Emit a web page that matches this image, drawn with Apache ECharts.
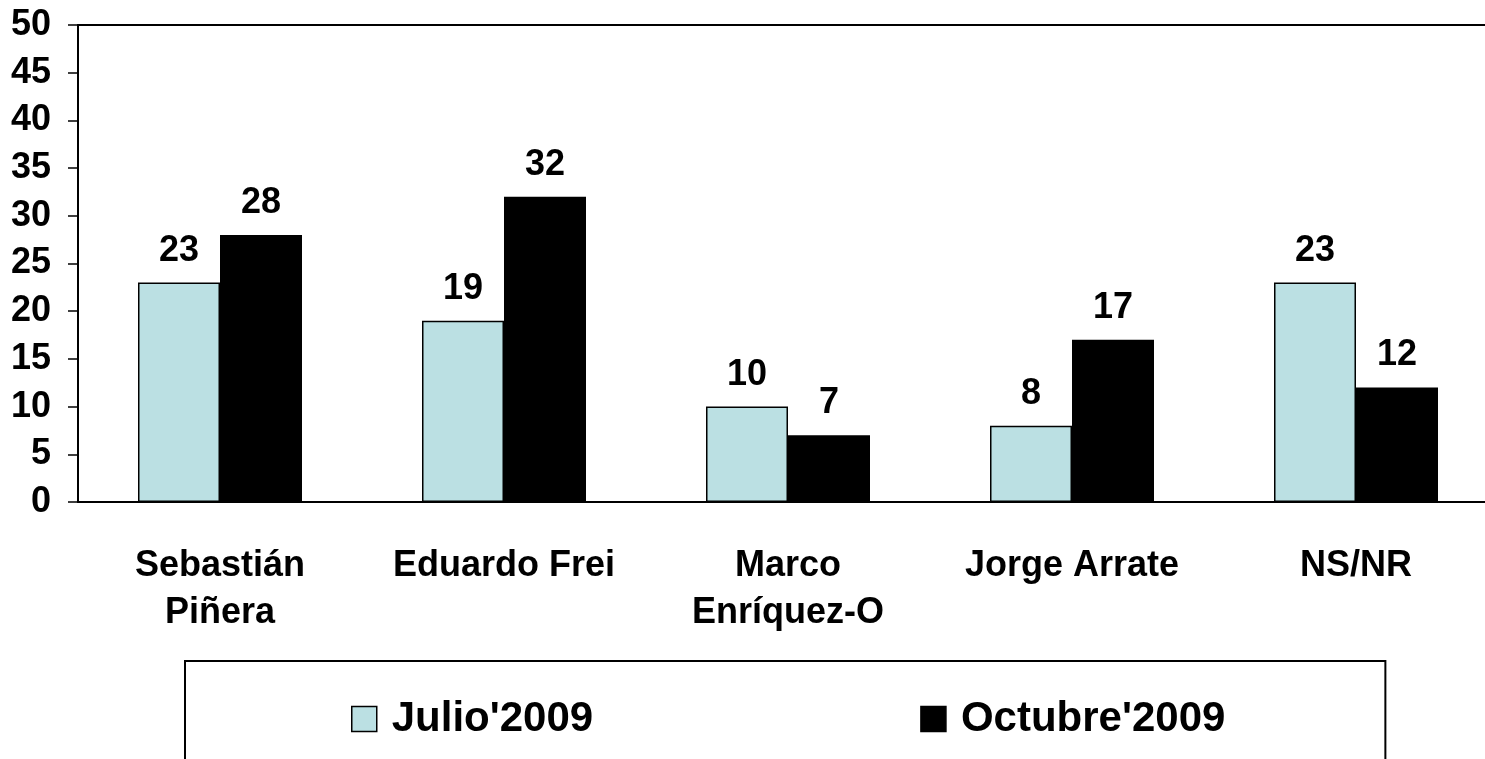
<!DOCTYPE html>
<html>
<head>
<meta charset="utf-8">
<script src="https://cdn.jsdelivr.net/npm/echarts@6/dist/echarts.min.js"></script>
<style>
  html, body { margin: 0; padding: 0; background: #fff; }
  #chart { width: 1485px; height: 759px; }
</style>
</head>
<body>
<div id="chart"></div>
<script>
const categories = ['Sebastián\nPiñera', 'Eduardo Frei', 'Marco\nEnríquez-O', 'Jorge Arrate', 'NS/NR'];
const julio = [23, 19, 10, 8, 23];
const octubre = [28, 32, 7, 17, 12];
const seriesNames = ["Julio'2009", "Octubre'2009"];

const font = 'Liberation Sans, Arial, sans-serif';
const chart = echarts.init(document.getElementById('chart'));

const option = {
  animation: false,
  grid: {
    left: 78,
    top: 25,
    right: -13,
    bottom: 257,
    containLabel: false,
    outerBoundsMode: 'none'
  },
  legend: {
    data: seriesNames,
    left: 185,
    top: 661,
    icon: 'rect',
    itemWidth: 25,
    itemHeight: 25,
    itemGap: 327,
    padding: [37, 160, 60, 166],
    borderColor: '#000',
    borderWidth: 2,
    itemStyle: { borderColor: '#000', borderWidth: 1.5 },
    textStyle: {
      fontFamily: font, fontWeight: 'bold', fontSize: 42, color: '#000',
      padding: [0, 0, 0, 10]
    }
  },
  xAxis: [{
    type: 'category',
    data: categories,
    axisLine: { lineStyle: { color: '#000', width: 2 } },
    axisTick: { length: 10, lineStyle: { color: '#000', width: 1.5 } },
    axisLabel: {
      margin: 41,
      fontFamily: font,
      fontWeight: 'bold',
      fontSize: 36,
      lineHeight: 47,
      color: '#000',
      interval: 0
    }
  }, {
    // top frame line of the plot area
    type: 'category',
    position: 'top',
    data: categories,
    axisLine: { show: true, lineStyle: { color: '#000', width: 2 } },
    axisTick: { show: false },
    axisLabel: { show: false }
  }],
  yAxis: {
    type: 'value',
    min: 0,
    max: 50,
    interval: 5,
    splitLine: { show: false },
    axisLine: { show: true, lineStyle: { color: '#000', width: 2 } },
    axisTick: { show: true, length: 10, lineStyle: { color: '#000', width: 1.5 } },
    axisLabel: {
      margin: 27,
      fontFamily: font,
      fontWeight: 'bold',
      fontSize: 36,
      color: '#000'
    }
  },
  series: [{
    name: seriesNames[0],
    type: 'bar',
    data: julio,
    barWidth: 82,
    barGap: '0%',
    itemStyle: { color: '#bbe0e3', borderColor: '#000', borderWidth: 1.5 },
    label: {
      show: true, position: 'top', distance: 14,
      fontFamily: font, fontWeight: 'bold', fontSize: 36, color: '#000'
    }
  }, {
    name: seriesNames[1],
    type: 'bar',
    data: octubre,
    barWidth: 82,
    barGap: '0%',
    itemStyle: { color: '#000', borderColor: '#000', borderWidth: 1.5 },
    label: {
      show: true, position: 'top', distance: 14,
      fontFamily: font, fontWeight: 'bold', fontSize: 36, color: '#000'
    }
  }]
};

chart.setOption(option);
</script>
</body>
</html>
